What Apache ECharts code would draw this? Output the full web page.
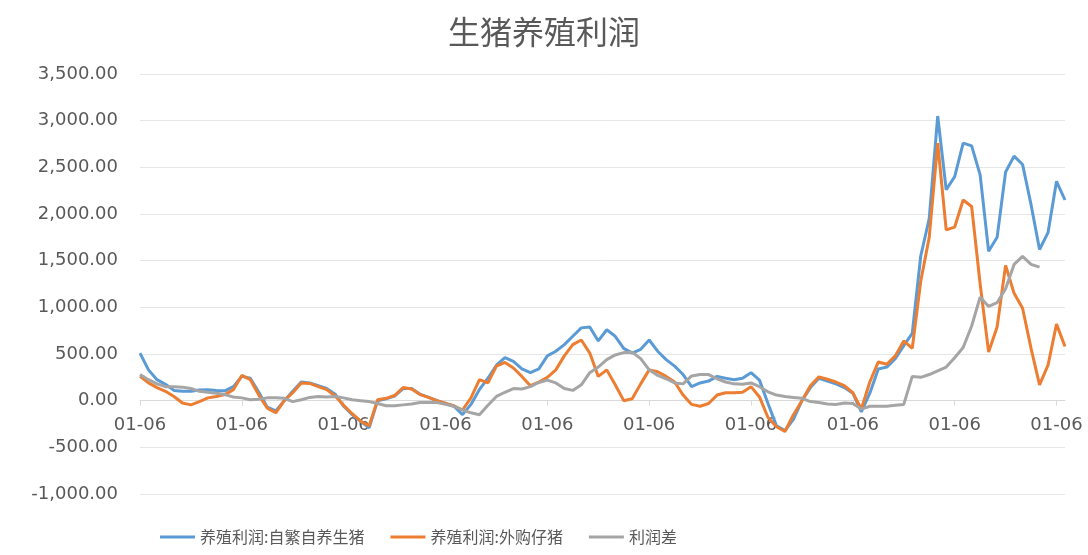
<!DOCTYPE html>
<html>
<head>
<meta charset="utf-8">
<script src="https://cdn.jsdelivr.net/npm/echarts@6/dist/echarts.min.js"></script>
<style>html,body{margin:0;padding:0;background:#fff}#c{width:1088px;height:555px}</style>
</head>
<body>
<div id="c"></div>
<script>
// Monthly categories from 2011-01 (110 points)
const startYear = 2011;
const categories = [];
for (let i = 0; i < 110; i++) {
  const y = startYear + Math.floor(i / 12);
  const m = (i % 12) + 1;
  categories.push(y + '-' + (m < 10 ? '0' + m : m));
}
const tickLabel = '01-06';
const seriesNames = ['养殖利润:自繁自养生猪', '养殖利润:外购仔猪', '利润差'];

const selfBred = [510,330,225,175,110,100,100,115,118,110,
  105,150,260,240,90,-70,-110,0,100,200,
  190,160,130,70,-60,-150,-220,-290,0,20,
  50,130,130,70,35,0,-30,-60,-150,-40,
  120,240,380,460,420,340,300,340,480,530,
  600,690,780,790,640,760,690,560,510,550,
  650,530,440,370,280,150,190,210,260,240,
  225,240,300,220,-30,-270,-320,-200,0,140,
  240,210,180,140,80,-120,80,340,360,450,
  590,720,1550,1950,3050,2260,2400,2760,2730,2420,
  1600,1750,2450,2620,2530,2100,1620,1800,2350,2150];

const purchased = [260,190,140,100,45,-25,-45,-10,30,45,
  65,118,270,225,60,-80,-130,0,85,190,
  185,150,118,50,-50,-140,-220,-270,10,25,
  55,140,125,65,35,0,-30,-55,-100,30,
  225,190,370,410,350,260,160,200,250,330,
  480,600,650,510,260,330,170,0,20,180,
  330,310,260,200,60,-40,-60,-30,60,85,
  85,90,150,40,-180,-280,-330,-150,0,160,
  255,230,200,160,85,-90,200,415,390,480,
  640,560,1280,1750,2760,1830,1860,2150,2080,1250,
  520,790,1450,1150,990,560,170,380,820,580];

const diff = [280,225,180,150,150,145,130,100,90,80,
  65,40,30,10,15,30,30,25,-10,10,
  35,45,40,45,30,10,0,-10,-30,-55,
  -55,-45,-35,-20,-20,-20,-40,-60,-100,-130,
  -150,-50,45,90,130,125,150,195,220,190,
  130,110,170,300,360,440,490,515,520,450,
  330,270,235,190,180,265,280,280,235,200,
  180,175,190,150,95,60,45,35,25,-10,
  -20,-35,-40,-25,-30,-90,-60,-60,-60,-50,
  -40,260,250,280,320,360,460,570,800,1110,
  1010,1050,1200,1460,1545,1460,1430,null,null,null];

const colors = ['#5b9bd5', '#ed7d31', '#a5a5a5'];
const textColor = '#595959';
const fontFamily = '"DejaVu Sans", sans-serif';

const gridTop = 74, gridBottom = 61, chartH = 555;
const yMin = -1000, yMax = 3500;
const plotH = chartH - gridTop - gridBottom;
// shift the category axis up so it sits on the value 0 line
const zeroOffset = -plotH * (0 - yMin) / (yMax - yMin);

const chart = echarts.init(document.getElementById('c'));
chart.setOption({
  animation: false,
  color: colors,
  title: {
    text: '生猪养殖利润',
    left: 'center',
    top: 11,
    textStyle: { color: textColor, fontSize: 32, fontWeight: 'normal', fontFamily: '"Noto Sans CJK SC", sans-serif' }
  },
  legend: {
    left: 155,
    top: 524,
    icon: 'rect',
    itemWidth: 35,
    itemHeight: 3,
    itemGap: 26,
    textStyle: { color: textColor, fontSize: 16, fontFamily: '"Noto Sans CJK SC", sans-serif' },
    data: seriesNames
  },
  grid: { left: 140, right: 23, top: gridTop, bottom: gridBottom, containLabel: false },
  xAxis: {
    type: 'category',
    data: categories,
    boundaryGap: false,
    offset: zeroOffset,
    axisLine: { onZero: false, lineStyle: { color: '#d9d9d9', width: 1 } },
    axisTick: { show: true, interval: 11, length: 5, lineStyle: { color: '#d9d9d9' } },
    axisLabel: {
      interval: 11,
      margin: 16,
      color: textColor,
      fontSize: 18,
      fontFamily: fontFamily,
      formatter: function () { return tickLabel; }
    },
    splitLine: { show: false }
  },
  yAxis: {
    type: 'value',
    min: yMin,
    max: yMax,
    interval: 500,
    axisLine: { show: false },
    axisTick: { show: false },
    axisLabel: {
      margin: 22,
      color: textColor,
      fontSize: 18,
      fontFamily: fontFamily,
      formatter: function (v) { return v.toLocaleString('en-US', { minimumFractionDigits: 2, maximumFractionDigits: 2 }); }
    },
    splitLine: { lineStyle: { color: '#e6e6e6', width: 1 } }
  },
  series: [
    { name: seriesNames[0], type: 'line', data: selfBred, showSymbol: false, lineStyle: { width: 3 } },
    { name: seriesNames[1], type: 'line', data: purchased, showSymbol: false, lineStyle: { width: 3 } },
    { name: seriesNames[2], type: 'line', data: diff, showSymbol: false, lineStyle: { width: 3 } }
  ]
});
</script>
</body>
</html>
